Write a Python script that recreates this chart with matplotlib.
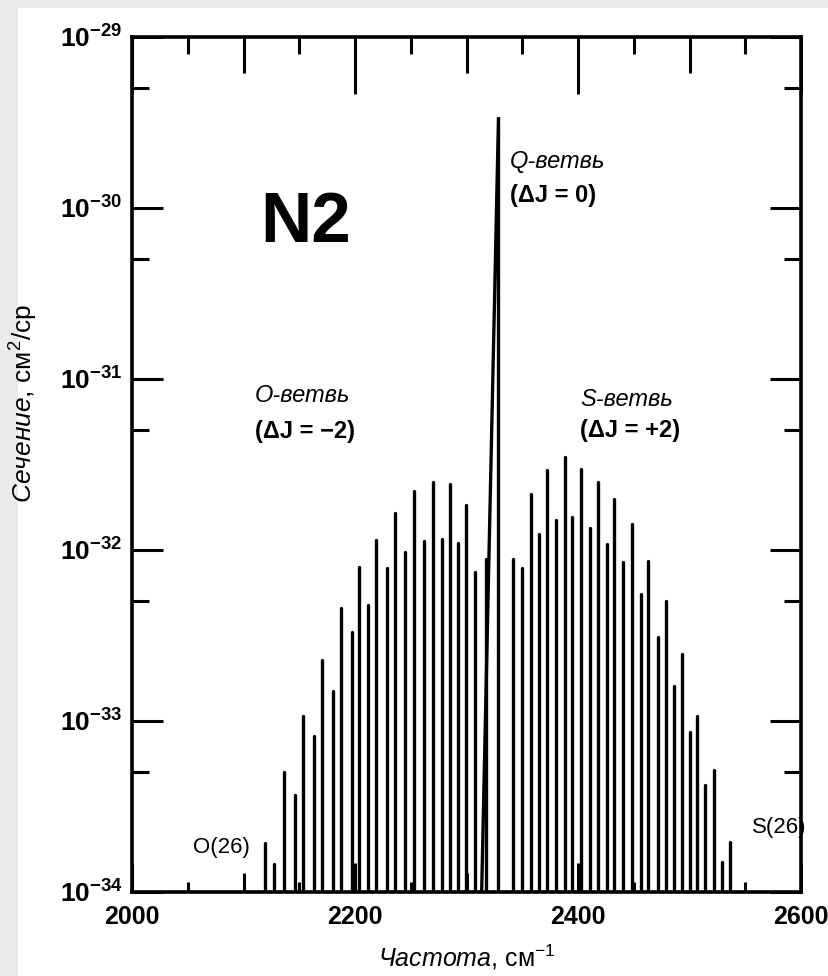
import numpy as np
import matplotlib
matplotlib.use("Agg")
import matplotlib.pyplot as plt
from matplotlib.patches import Rectangle
from matplotlib.ticker import MultipleLocator, FuncFormatter, NullFormatter

plt.rcParams['font.family'] = ['Liberation Sans', 'DejaVu Sans']
plt.rcParams['mathtext.fontset'] = 'custom'
plt.rcParams['mathtext.rm'] = 'Liberation Sans'
plt.rcParams['mathtext.it'] = 'Liberation Sans:italic'
plt.rcParams['mathtext.bf'] = 'Liberation Sans:bold'

# O-branch lines (O(26) ... O(2)), cm^-1 and cross-section cm^2/sr
o_freq = [2119.3, 2127.6, 2136.1, 2146.2, 2153.4, 2163.2, 2170.4, 2180.3,
          2187.4, 2197.3, 2204.0, 2211.7, 2218.6, 2228.4, 2235.6, 2244.8,
          2252.9, 2261.9, 2270.0, 2278.0, 2284.9, 2292.1, 2299.3, 2307.6,
          2317.5]
o_sigma = [1.94e-34, 1.46e-34, 5.0e-34, 3.7e-34, 1.07e-33, 8.2e-34, 2.28e-33,
           1.50e-33, 4.6e-33, 3.3e-33, 8.0e-33, 4.8e-33, 1.14e-32, 7.9e-33,
           1.64e-32, 9.7e-33, 2.21e-32, 1.13e-32, 2.50e-32, 1.16e-32,
           2.43e-32, 1.10e-32, 1.83e-32, 7.4e-33, 8.8e-33]

# S-branch lines (S(0) ... S(26))
s_freq = [2341.7, 2349.8, 2357.8, 2365.0, 2372.2, 2380.3, 2388.3, 2394.6,
          2402.7, 2410.8, 2417.9, 2426.0, 2432.3, 2440.4, 2448.1, 2456.5,
          2463.1, 2471.5, 2478.6, 2486.1, 2493.3, 2500.4, 2506.7, 2514.2,
          2522.0, 2529.5, 2536.3]
s_sigma = [8.9e-33, 7.9e-33, 2.12e-32, 1.24e-32, 2.94e-32, 1.50e-32, 3.5e-32,
           1.56e-32, 2.98e-32, 1.35e-32, 2.50e-32, 1.08e-32, 1.99e-32, 8.5e-33,
           1.42e-32, 5.5e-33, 8.6e-33, 3.1e-33, 5.0e-33, 1.60e-33, 2.47e-33,
           8.6e-34, 1.07e-33, 4.2e-34, 5.2e-34, 1.50e-34, 1.97e-34]

# Q-branch outline: foot, head
q_freq = [2313.6, 2328.7, 2328.7]
q_sigma = [1e-34, 3.4e-30, 1e-34]

y_decades = [-34, -33, -32, -31, -30, -29]

fig = plt.figure(figsize=(8.29, 9.76), dpi=100, facecolor='#ebebeb')
fig.patches.append(Rectangle((18/829, 0), 1, 1 - 8/976, transform=fig.transFigure,
                             facecolor='white', edgecolor='none', zorder=-5))
ax = fig.add_axes([132/829, 84/976, 669/829, 855/976])
ax.set_facecolor('white')

ax.set_yscale('log')
ax.set_xlim(2000, 2600)
ax.set_ylim(1e-34, 1e-29)

lines = ax.vlines(o_freq + s_freq, 1e-34, o_sigma + s_sigma, color='black', lw=2.4)
lines.set_capstyle('round')
ax.plot(q_freq, q_sigma, color='black', lw=2.4, solid_joinstyle='miter')

for sp in ax.spines.values():
    sp.set_linewidth(2.6)

# y ticks on both sides, inward; minor ticks at 5*10^n
ax.set_yticks([10.0 ** d for d in y_decades])
ax.set_yticks([5 * 10.0 ** d for d in y_decades[:-1]], minor=True)
ax.yaxis.set_minor_formatter(NullFormatter())
ax.yaxis.set_major_formatter(FuncFormatter(lambda v, p: r'$\mathbf{10^{%d}}$' % round(np.log10(v))))
ax.tick_params(axis='y', which='major', direction='in', length=22, width=2.2,
               left=True, right=True, labelsize=19, pad=7)
ax.tick_params(axis='y', which='minor', direction='in', length=12, width=2.2,
               left=True, right=True)

# x ticks inward on both sides; top ones are longer
ax.xaxis.set_major_locator(MultipleLocator(200))
ax.xaxis.set_minor_locator(MultipleLocator(50))
ax.xaxis.set_major_formatter(FuncFormatter(lambda v, p: '%d' % v))
ax.tick_params(axis='x', which='both', direction='in', width=2.2,
               top=True, bottom=True, labelsize=18, pad=9)
for lab in ax.get_xticklabels() + ax.get_yticklabels():
    lab.set_fontweight('bold')

for t in ax.xaxis.get_major_ticks():
    t.tick1line.set_markersize(21)
    t.tick2line.set_markersize(41)
minor_locs = ax.xaxis.get_minorticklocs()
for t, loc in zip(ax.xaxis.get_minor_ticks(len(minor_locs)), minor_locs):
    if round(loc) % 100 == 0:
        t.tick1line.set_markersize(13.5)
        t.tick2line.set_markersize(26)
    else:
        t.tick1line.set_markersize(7)
        t.tick2line.set_markersize(12)

ax.set_xlabel(r'$\mathit{Частота}$, см$^{-1}$', fontsize=18, labelpad=10)
ax.set_ylabel(r'$\mathit{Сечение}$, см$^{2}$/ср', fontsize=19)
ax.yaxis.set_label_coords(-0.137, 0.571)

ax.text(0.191, 0.76, 'N2', transform=ax.transAxes, fontsize=51, fontweight='bold')
ax.text(2339, 1.88e-30, 'Q-ветвь', fontsize=17, style='italic', va='center')
ax.text(2339, 1.19e-30, '(ΔJ = 0)', fontsize=17, fontweight='bold', va='center')
ax.text(2110, 7.96e-32, 'O-ветвь', fontsize=17, style='italic', va='center')
ax.text(2110, 4.90e-32, '(ΔJ = \u22122)', fontsize=17, fontweight='bold', va='center')
ax.text(2402, 7.6e-32, 'S-ветвь', fontsize=17, style='italic', va='center')
ax.text(2402, 4.97e-32, '(ΔJ = +2)', fontsize=17, fontweight='bold', va='center')
ax.text(2054.7, 1.83e-34, 'O(26)', fontsize=16, va='center')
ax.text(2556, 2.37e-34, 'S(26)', fontsize=16, va='center')

fig.savefig('out.png', dpi=100, facecolor=fig.get_facecolor())
